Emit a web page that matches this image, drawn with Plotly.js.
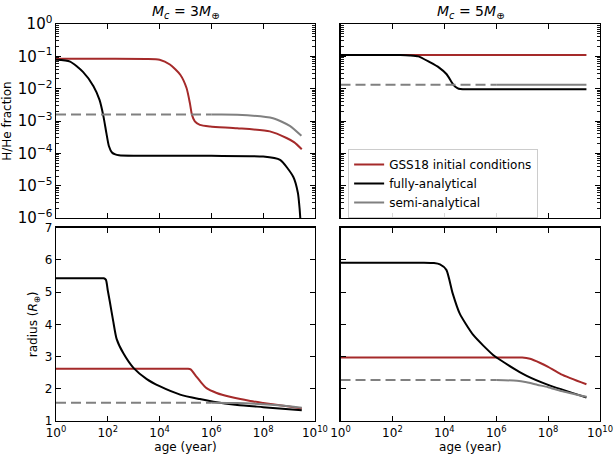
<!DOCTYPE html>
<html>
<head>
<meta charset="utf-8">
<script src="https://cdn.plot.ly/plotly-3.0.1.min.js"></script>
<style>html,body{margin:0;padding:0;background:#fff;}#plot{width:614px;height:457px;}</style>
</head>
<body>
<div id="plot"></div>
<script>
// ---- Mc = 3 M_earth : H/He fraction vs age ----
const ageRed3 = [1, 1e2, 3e3, 1e4, 2.5e4, 6.3e4, 1.1e5, 1.48e5, 1.78e5, 2.3e5, 3.6e5, 9e5, 1e7, 1.8e8, 8e8, 1.6e9, 3.1e9];
const fracRed3 = [0.084, 0.084, 0.083, 0.079, 0.056, 0.027, 0.0105, 0.0036, 0.00155, 0.00098, 0.00076, 0.00068, 0.0006, 0.00048, 0.0003, 0.00022, 0.000135];

const ageBlack3 = [1, 3.5, 11, 28, 48, 68, 88, 110, 145, 195, 270, 1e3, 1e6, 1e8, 4.5e8, 1.45e9, 2.2e9, 2.55e9, 2.8e9];
const fracBlack3 = [0.078, 0.069, 0.033, 0.012, 0.0045, 0.0014, 0.00043, 0.00017, 0.000107, 0.000093, 0.000088, 0.000085, 0.000084, 0.00008, 0.000063, 0.000019, 0.000006, 0.000002, 0.0000007];

const ageGreyDash3 = [1, 1e6];
const fracGreyDash3 = [0.0016, 0.0016];
const ageGrey3 = [1e6, 1e7, 2.4e8, 1.07e9, 3.0e9];
const fracGrey3 = [0.0016, 0.00158, 0.00123, 0.00071, 0.00035];

// ---- Mc = 5 M_earth : H/He fraction vs age ----
const ageRed5 = [1, 3e9];
const fracRed5 = [0.11, 0.11];

const ageBlack5 = [1, 30, 2e2, 4.7e2, 1e3, 2.75e3, 6.3e3, 1.23e4, 2.24e4, 3.2e4, 4.1e4, 1e5, 1e7, 3e9];
const fracBlack5 = [0.11, 0.11, 0.11, 0.107, 0.1, 0.066, 0.045, 0.028, 0.0132, 0.0105, 0.0098, 0.0096, 0.0096, 0.0096];

const ageGreyDash5 = [1, 1e6];
const fracGreyDash5 = [0.0132, 0.0132];
const ageGrey5 = [1e6, 3e9];
const fracGrey5 = [0.0132, 0.0132];

// ---- Mc = 3 M_earth : radius vs age ----
const ageRRed3 = [1, 1e4, 8e4, 1.26e5, 1.58e5, 2.7e5, 4e5, 6.5e5, 1.6e6, 5.2e6, 3.2e7, 1e8, 1e9, 3.1e9];
const radRed3 = [2.62, 2.62, 2.62, 2.62, 2.6, 2.37, 2.2, 2.02, 1.87, 1.75, 1.62, 1.56, 1.45, 1.39];

const ageRBlack3 = [1, 10, 50, 70, 85, 100, 120, 162, 219, 400, 1e3, 3.2e3, 1e4, 6.2e4, 3.6e5, 1.2e6, 1e7, 1e8, 3.1e9];
const radRBlack3 = [5.43, 5.43, 5.43, 5.43, 5.38, 5.05, 4.7, 4.1, 3.55, 3.1, 2.64, 2.3, 2.08, 1.82, 1.68, 1.6, 1.5, 1.43, 1.33];

const ageRGreyDash3 = [1, 1e6];
const radRGreyDash3 = [1.57, 1.57];
const ageRGrey3 = [1e6, 1e7, 1e8, 1e9, 3.1e9];
const radRGrey3 = [1.57, 1.56, 1.52, 1.46, 1.41];

// ---- Mc = 5 M_earth : radius vs age ----
const ageRRed5 = [1, 1e4, 3e6, 1e7, 2e7, 5e7, 1e8, 3.2e8, 3e9];
const radRRed5 = [2.97, 2.97, 2.97, 2.97, 2.93, 2.8, 2.68, 2.45, 2.14];

const ageRBlack5 = [1, 1e2, 1.5e3, 4e3, 6.8e3, 1.2e4, 2.1e4, 3.9e4, 1.3e5, 7.6e5, 1.4e6, 6e6, 1.5e7, 1e8, 3e9];
const radRBlack5 = [5.91, 5.91, 5.91, 5.9, 5.86, 5.69, 4.96, 4.34, 3.67, 3.05, 2.9, 2.58, 2.4, 2.12, 1.73];

const ageRGreyDash5 = [1, 1e6];
const radRGreyDash5 = [2.27, 2.27];
const ageRGrey5 = [1e6, 6.3e6, 1.5e7, 4e7, 1e8, 3.2e8, 3e9];
const radRGrey5 = [2.27, 2.25, 2.2, 2.12, 2.05, 1.93, 1.75];

// ---- tick labels ----
const ageTickVals = [1, 1e2, 1e4, 1e6, 1e8, 1e10];
const ageTickText = ['10<sup>0</sup>', '10<sup>2</sup>', '10<sup>4</sup>', '10<sup>6</sup>', '10<sup>8</sup>', '10<sup>10</sup>'];
const fracTopLabel = '10<sup>0</sup>';
const radTickVals = [1, 2, 3, 4, 5, 6, 7];

const RED = '#a52a2a';
const BLACK = '#000000';
const GREY = '#808080';
const LW = 2;

function line(x, y, color, xa, ya, opts) {
  return Object.assign({
    type: 'scatter', mode: 'lines', x: x, y: y,
    xaxis: xa, yaxis: ya,
    line: {color: color, width: LW, shape: 'spline', smoothing: 0.6},
    showlegend: false, hoverinfo: 'skip'
  }, opts || {});
}

const dash = {color: GREY, width: LW, dash: '10px,5px'};

const traces = [
  // top left
  line(ageRed3, fracRed3, RED, 'x', 'y'),
  line(ageBlack3, fracBlack3, BLACK, 'x', 'y'),
  line(ageGreyDash3, fracGreyDash3, GREY, 'x', 'y', {line: dash}),
  line(ageGrey3, fracGrey3, GREY, 'x', 'y'),
  // top right (carries the legend)
  line(ageRed5, fracRed5, RED, 'x2', 'y2', {showlegend: true, name: 'GSS18 initial conditions'}),
  line(ageBlack5, fracBlack5, BLACK, 'x2', 'y2', {showlegend: true, name: 'fully-analytical'}),
  line(ageGreyDash5, fracGreyDash5, GREY, 'x2', 'y2', {line: dash}),
  line(ageGrey5, fracGrey5, GREY, 'x2', 'y2', {showlegend: true, name: 'semi-analytical'}),
  // bottom left
  line(ageRRed3, radRed3, RED, 'x3', 'y3'),
  line(ageRBlack3, radRBlack3, BLACK, 'x3', 'y3'),
  line(ageRGreyDash3, radRGreyDash3, GREY, 'x3', 'y3', {line: dash}),
  line(ageRGrey3, radRGrey3, GREY, 'x3', 'y3'),
  // bottom right
  line(ageRRed5, radRRed5, RED, 'x4', 'y4'),
  line(ageRBlack5, radRBlack5, BLACK, 'x4', 'y4'),
  line(ageRGreyDash5, radRGreyDash5, GREY, 'x4', 'y4', {line: dash}),
  line(ageRGrey5, radRGrey5, GREY, 'x4', 'y4')
];

const FONT = {family: 'DejaVu Sans, sans-serif', size: 12, color: '#000'};

function baseAxis(extra) {
  return Object.assign({
    showline: true, linecolor: '#000', linewidth: 1.2,
    mirror: 'allticks', ticks: 'inside', ticklen: 5, tickwidth: 1.1, tickcolor: '#000',
    showgrid: false, zeroline: false, tickfont: FONT
  }, extra);
}

const xDomL = [0, 0.476];
const xDomR = [0.523, 1];
const yDomT = [0.511, 1];
const yDomB = [0, 0.487];

function ageAxis(dom, anchor, labels) {
  return baseAxis({
    type: 'log', range: [0, 10], domain: dom, anchor: anchor,
    tickmode: 'array', tickvals: ageTickVals, ticktext: ageTickText,
    showticklabels: labels,
    title: labels ? {text: 'age (year)', font: FONT, standoff: 4} : {text: ''}
  });
}

// log axis with a major tick per decade (10^n labels) and minor ticks at 2..9
function fracAxis(dom, anchor, labels) {
  return baseAxis({
    type: 'log', range: [-6, 0], domain: dom, anchor: anchor,
    tickmode: 'linear', tick0: 0, dtick: 1, exponentformat: 'power',
    labelalias: {'1': fracTopLabel},
    showticklabels: labels,
    minor: {ticks: 'inside', ticklen: 3, tickwidth: 0.9, tickcolor: '#000', dtick: 'D1', showgrid: false},
    title: labels ? {text: 'H/He fraction', font: FONT, standoff: 4} : {text: ''}
  });
}

function radAxis(dom, anchor, labels) {
  return baseAxis({
    type: 'linear', range: [1, 7], domain: dom, anchor: anchor,
    tickmode: 'array', tickvals: radTickVals,
    showticklabels: labels,
    title: labels ? {text: 'radius (<i>R</i><sub>\u2295</sub>)', font: FONT, standoff: 4} : {text: ''}
  });
}

const layout = {
  width: 614, height: 457,
  margin: {l: 56, r: 14, t: 24, b: 36},
  paper_bgcolor: '#fff', plot_bgcolor: '#fff',
  font: FONT,
  xaxis: ageAxis(xDomL, 'y', false),
  yaxis: fracAxis(yDomT, 'x', true),
  xaxis2: ageAxis(xDomR, 'y2', false),
  yaxis2: fracAxis(yDomT, 'x2', false),
  xaxis3: ageAxis(xDomL, 'y3', true),
  yaxis3: radAxis(yDomB, 'x3', true),
  xaxis4: ageAxis(xDomR, 'y4', true),
  yaxis4: radAxis(yDomB, 'x4', false),
  showlegend: true,
  legend: {
    x: 0.537, y: 0.685, xanchor: 'left', yanchor: 'top',
    bgcolor: 'rgba(255,255,255,0.85)', bordercolor: '#cccccc', borderwidth: 1,
    font: FONT, tracegroupgap: 0
  },
  annotations: [
    {text: '<i>M</i><sub><i>c</i></sub> = 3<i>M</i><sub>\u2295</sub>', xref: 'paper', yref: 'paper',
     x: 0.238, y: 1.003, xanchor: 'center', yanchor: 'bottom', showarrow: false,
     font: {family: 'DejaVu Sans, sans-serif', size: 14, color: '#000'}},
    {text: '<i>M</i><sub><i>c</i></sub> = 5<i>M</i><sub>\u2295</sub>', xref: 'paper', yref: 'paper',
     x: 0.762, y: 1.003, xanchor: 'center', yanchor: 'bottom', showarrow: false,
     font: {family: 'DejaVu Sans, sans-serif', size: 14, color: '#000'}}
  ]
};

Plotly.newPlot('plot', traces, layout, {staticPlot: true, displayModeBar: false});
</script>
</body>
</html>
